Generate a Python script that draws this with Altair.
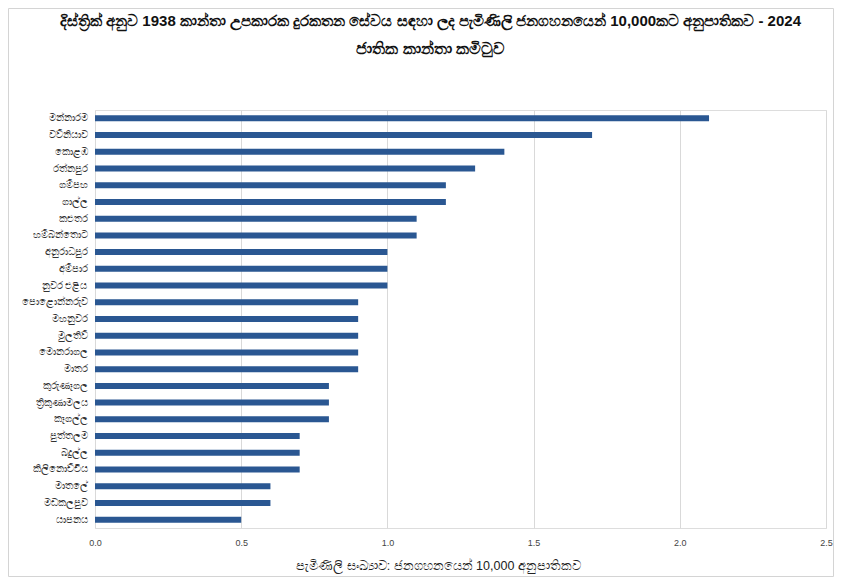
import altair as alt
import pandas as pd

districts = ["මන්නාරම", "වව්නියාව", "කොළඹ", "රත්නපුර", "ගම්පහ", "ගාල්ල", "කළුතර",
             "හම්බන්තොට", "අනුරාධපුර", "අම්පාර", "නුවර එළිය", "පොළොන්නරුව", "මහනුවර",
             "මුලතිව්", "මොනරාගල", "මාතර", "කුරුණෑගල", "ත්‍රිකුණාමලය", "කෑගල්ල",
             "පුත්තලම", "බදුල්ල", "කිලිනොච්චිය", "මාතලේ", "මඩකලපුව", "යාපනය"]
values = [2.1, 1.7, 1.4, 1.3, 1.2, 1.2, 1.1, 1.1, 1.0, 1.0, 1.0, 0.9, 0.9,
          0.9, 0.9, 0.9, 0.8, 0.8, 0.8, 0.7, 0.7, 0.7, 0.6, 0.6, 0.5]
x_ticks = [0.0, 0.5, 1.0, 1.5, 2.0, 2.5]

title_text = "දිස්ත්‍රික් අනුව 1938 කාන්තා උපකාරක දුරකතන සේවය සඳහා ලද පැමිණිලි ජනගහනයෙන් 10,000කට අනුපාතිකව - 2024"
subtitle_text = "ජාතික කාන්තා කමිටුව"
x_title = "පැමිණිලි සංඛ්‍යාව: ජනගහනයෙන් 10,000 අනුපාතිකව"

df = pd.DataFrame({"district": districts, "value": values})

bars = alt.Chart(df).mark_bar(color="#2A5792", size=6).encode(
    x=alt.X("value:Q",
            scale=alt.Scale(domain=[0, 2.5], nice=False),
            axis=alt.Axis(values=x_ticks, format=".1f", title=x_title,
                          grid=True, gridColor="#D9D9D9", domain=False, ticks=False,
                          labelFlush=False,
                          labelFontSize=9, labelColor="#444444", labelPadding=10,
                          titleFontSize=12.5, titleFontWeight="normal", titleColor="#222222",
                          titlePadding=12, titleX=343)),
    y=alt.Y("district:N", sort=districts,
            scale=alt.Scale(paddingInner=0.6, paddingOuter=0.3),
            axis=alt.Axis(title=None, domain=False, ticks=False, labelFontSize=10,
                          labelColor="#333333", labelPadding=8)),
)

border = alt.Chart(pd.DataFrame({"k": [0]})).mark_rect(
    fill=None, stroke="#D4D4D4", strokeWidth=1
).encode(
    x=alt.value(-86.5), x2=alt.value(738.5),
    y=alt.value(-101.5), y2=alt.value(466.5),
)

chart = alt.layer(bars, border).properties(
    width=731, height=418,
    title=alt.TitleParams(text=title_text, subtitle=subtitle_text, anchor="middle",
                          fontSize=15, fontWeight="bold", color="#111111",
                          subtitleFontSize=16, subtitleFontWeight="bold", subtitleColor="#111111",
                          subtitlePadding=12, offset=-49, dx=-30),
    autosize=alt.AutoSizeParams(type="none"),
    padding={"left": 87, "top": 102, "right": 8, "bottom": 49},
).configure_view(stroke=None).configure(background="white")

chart.save("out.html", embed_options={"renderer": "svg", "actions": False})
